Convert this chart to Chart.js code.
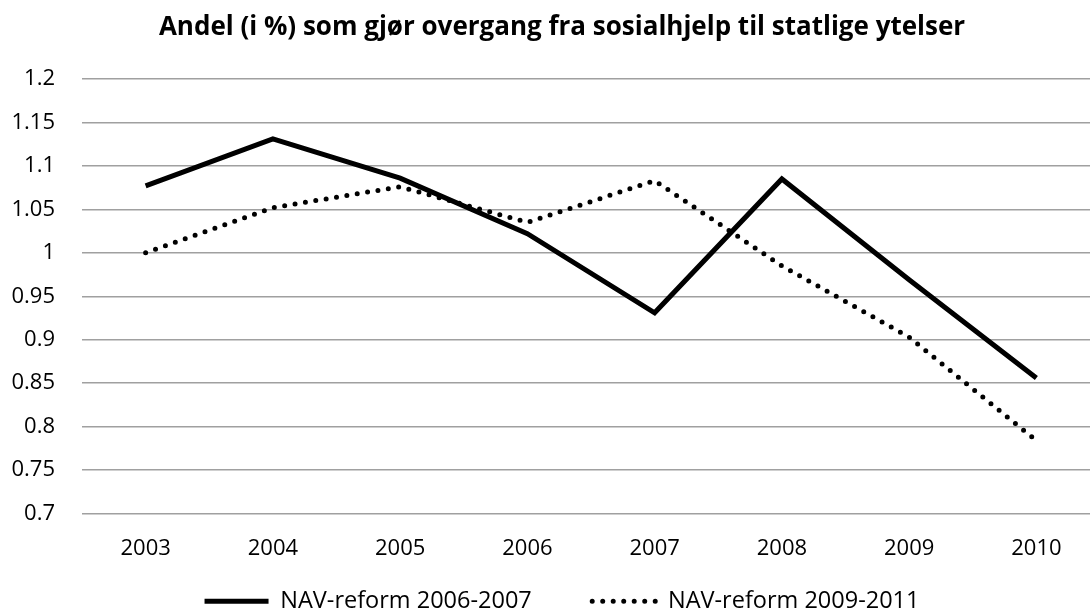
<!DOCTYPE html>
<html>
<head>
<meta charset="utf-8">
<script src="https://cdn.jsdelivr.net/npm/chart.js@4"></script>
<style>
	html, body { margin: 0; padding: 0; background: #fff; overflow: hidden; }
	#wrap { width: 1124px; height: 623px; }
</style>
</head>
<body>
<div id="wrap"><canvas id="overgangChart" width="1124" height="623"></canvas></div>
<script>
const years = ["2003", "2004", "2005", "2006", "2007", "2008", "2009", "2010"];
const reform2006 = [1.077, 1.131, 1.086, 1.022, 0.931, 1.085, 0.969, 0.856];
const reform2009 = [1.0, 1.052, 1.076, 1.035, 1.083, 0.985, 0.903, 0.784];
const seriesNames = ["NAV-reform 2006-2007", "NAV-reform 2009-2011"];
const chartTitle = "Andel (i %) som gjør overgang fra sosialhjelp til statlige ytelser";

const fontFamily = "'Open Sans', sans-serif";

// legend samples should look like the lines (dash + round caps)
function legendLabels(chart) {
	const items = Chart.defaults.plugins.legend.labels.generateLabels(chart);
	items.forEach((item, i) => {
		const ds = chart.data.datasets[item.datasetIndex];
		item.lineDash = ds.borderDash || [];
		item.lineCap = ds.borderCapStyle || "butt";
		item.lineWidth = ds.borderWidth;
		// wider gap between the two entries
		if (i < items.length - 1) item.text += "         ";
	});
	return items;
}

const overgangChart = document.getElementById("overgangChart");
if (overgangChart) {
	new Chart(overgangChart, {
		type: "line",
		data: {
			labels: years,
			datasets: [
				{
					label: seriesNames[0],
					data: reform2006,
					borderColor: "#000",
					backgroundColor: "#000",
					borderWidth: 5,
					pointRadius: 0,
					tension: 0,
					pointStyle: "line",
				},
				{
					label: seriesNames[1],
					data: reform2009,
					borderColor: "#000",
					backgroundColor: "#000",
					borderWidth: 5,
					borderDash: [0, 10.5],
					borderCapStyle: "round",
					pointRadius: 0,
					tension: 0,
					pointStyle: "line",
				},
			],
		},
		options: {
			responsive: false,
			animation: false,
			devicePixelRatio: 1,
			layout: {
				padding: { top: 12.4, right: 10, left: 10, bottom: 0 },
			},
			plugins: {
				title: {
					display: true,
					text: chartTitle,
					color: "#000",
					font: { family: fontFamily, size: 26, weight: "bold" },
					padding: { top: 0, bottom: 35.4 },
				},
				legend: {
					position: "bottom",
					labels: {
						color: "#000",
						font: { family: fontFamily, size: 23.5 },
						usePointStyle: true,
						pointStyleWidth: 64,
						boxHeight: 22,
						padding: 5.5,
						generateLabels: legendLabels,
					},
				},
				tooltip: { enabled: false },
			},
			scales: {
				x: {
					offset: true,
					grid: { display: false, drawTicks: false },
					border: { display: false },
					ticks: {
						color: "#000",
						font: { family: fontFamily, size: 22 },
						padding: 22,
					},
				},
				y: {
					min: 0.7,
					max: 1.2,
					afterFit: (scale) => {
						scale.width = 72;
					},
					grid: { color: "#a0a0a0", lineWidth: 1.5, drawTicks: false },
					border: { display: false },
					ticks: {
						stepSize: 0.05,
						color: "#000",
						font: { family: fontFamily, size: 22 },
						padding: 27,
						callback: (v) => String(Number(v.toFixed(2))),
					},
				},
				// empty strip on the right so the plot stops where the reference does
				yRight: {
					position: "right",
					afterFit: (scale) => {
						scale.width = 14;
					},
					grid: { display: false, drawTicks: false },
					border: { display: false },
					ticks: { display: false },
				},
			},
		},
	});
}
</script>
</body>
</html>
